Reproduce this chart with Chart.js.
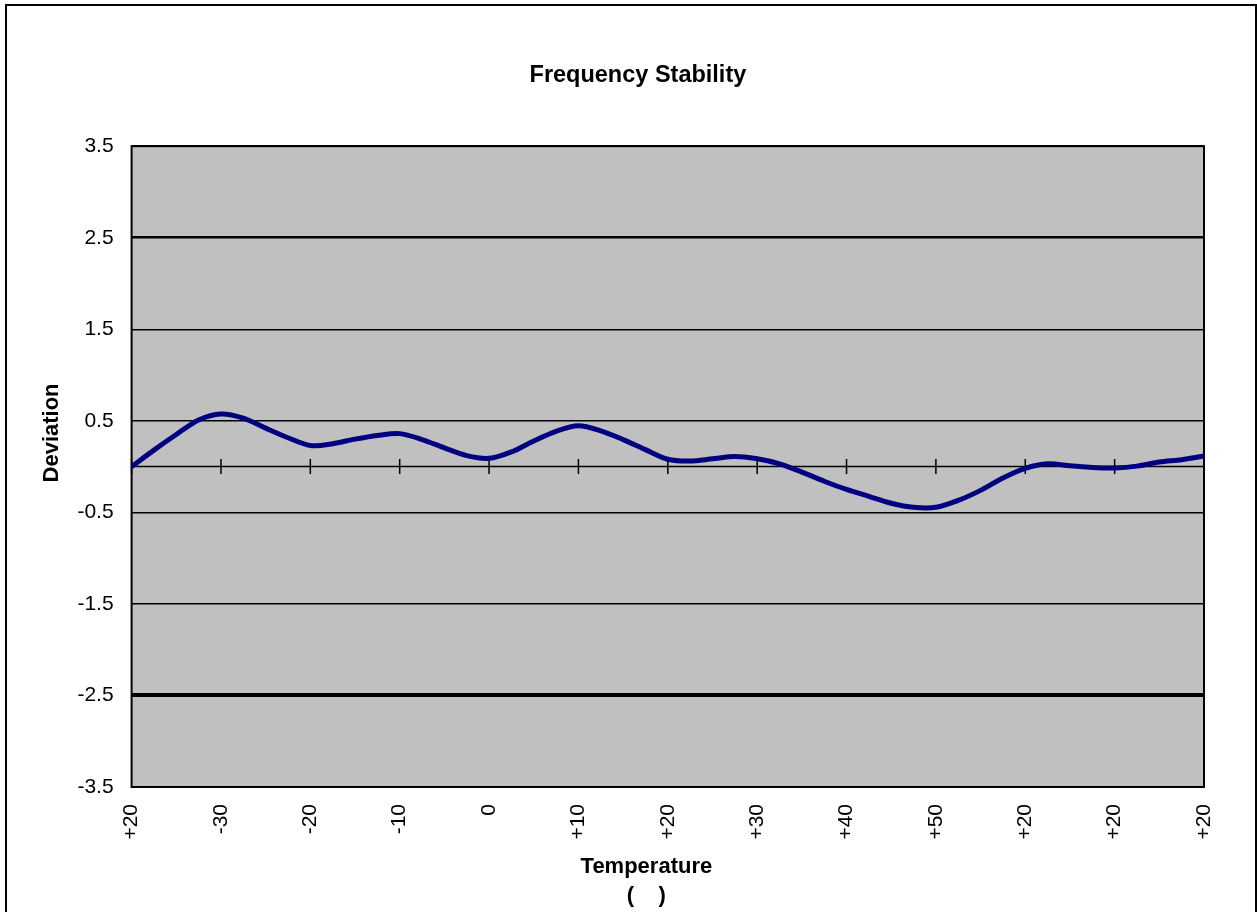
<!DOCTYPE html>
<html>
<head>
<meta charset="utf-8">
<title>Frequency Stability</title>
<script src="https://cdn.jsdelivr.net/npm/chart.js@4.4.1/dist/chart.umd.min.js"></script>
<style>
  html, body { margin: 0; padding: 0; background: #fff; overflow: hidden; }
  #frame { position: absolute; left: 5px; top: 4px; width: 1248px; height: 1000px; border: 2px solid #000; }
  #wrap { position: absolute; left: 0; top: 0; width: 1257px; height: 912px; }
</style>
</head>
<body>
<div id="frame"></div>
<div id="wrap"><canvas id="stabilityChart"></canvas></div>
<script>
// temperature steps along the run (one label per step)
const tempLabels = ['+20', '-30', '-20', '-10', '0', '+10', '+20', '+30', '+40', '+50', '+20', '+20', '+20'];
// deviation samples, four per temperature step
const samplesPerStep = 4;
const deviation = [
  0.00, 0.18, 0.35, 0.51, 0.575, 0.53, 0.42, 0.315,
  0.23, 0.25, 0.30, 0.34, 0.36, 0.295, 0.205, 0.12,
  0.09, 0.16, 0.28, 0.385, 0.445, 0.39, 0.295, 0.185,
  0.08, 0.06, 0.085, 0.11, 0.085, 0.03, -0.06, -0.16,
  -0.25, -0.325, -0.40, -0.445, -0.445, -0.37, -0.26, -0.125,
  -0.02, 0.03, 0.01, -0.01, -0.015, 0.005, 0.05, 0.075, 0.115
];
const yTicks = [-3.5, -2.5, -1.5, -0.5, 0.5, 1.5, 2.5, 3.5];
const limitValues = [-2.5, 2.5];

Chart.defaults.font.family = '"Liberation Sans", Arial, sans-serif';
Chart.defaults.color = '#000';

// grey plot area, frame, and the zero axis with cross tick marks
const plotFrame = {
  id: 'plotFrame',
  beforeDraw(chart) {
    const { ctx, chartArea: a } = chart;
    ctx.save();
    ctx.fillStyle = '#c0c0c0';
    ctx.fillRect(a.left, a.top, a.width, a.height);
    ctx.restore();
  },
  beforeDatasetsDraw(chart) {
    const { ctx, chartArea: a, scales: { x, y } } = chart;
    const y0 = y.getPixelForValue(0);
    ctx.save();
    ctx.strokeStyle = '#000';
    ctx.lineWidth = 1.5;
    ctx.beginPath();
    ctx.moveTo(a.left, y0);
    ctx.lineTo(a.right, y0);
    x.ticks.forEach(t => {
      const px = x.getPixelForValue(t.value);
      ctx.moveTo(px, y0 - 7.5);
      ctx.lineTo(px, y0 + 7.5);
    });
    ctx.stroke();
    ctx.lineWidth = 2;
    ctx.strokeRect(a.left, a.top, a.width, a.height);
    ctx.restore();
  }
};

const points = deviation.map((v, i) => ({ x: i / samplesPerStep, y: v }));

new Chart(document.getElementById('stabilityChart'), {
  type: 'line',
  data: {
    datasets: [{
      label: 'Deviation',
      data: points,
      borderColor: '#000080',
      borderWidth: 5,
      pointRadius: 0,
      tension: 0.3,
      borderCapStyle: 'round',
      borderJoinStyle: 'round',
      fill: false
    }]
  },
  options: {
    responsive: true,
    maintainAspectRatio: false,
    animation: false,
    layout: { padding: { left: 0, right: 53, top: 0, bottom: 0 } },
    plugins: {
      legend: { display: false },
      tooltip: { enabled: false },
      title: {
        display: true,
        text: ' '.repeat(11) + 'Frequency Stability',
        font: { size: 23.5, weight: 'bold', lineHeight: 1.2 },
        padding: { top: 61, bottom: 57 }
      }
    },
    scales: {
      x: {
        type: 'linear',
        min: 0,
        max: tempLabels.length - 1,
        afterBuildTicks: s => { s.ticks = tempLabels.map((_, i) => ({ value: i })); },
        // fit() reserves the tick padding twice; keep it once
        afterFit: s => { s.height -= s.options.ticks.padding; },
        grid: { display: false, drawTicks: false },
        border: { display: false },
        ticks: {
          autoSkip: false,
          minRotation: 90,
          maxRotation: 90,
          padding: 17,
          font: { size: 21 },
          callback: v => tempLabels[v]
        },
        title: {
          display: true,
          text: ['Temperature       ', '(    )       '],
          font: { size: 22, weight: 'bold', lineHeight: 1.35 },
          padding: { top: 12, bottom: 1 }
        }
      },
      y: {
        min: yTicks[0],
        max: yTicks[yTicks.length - 1],
        afterBuildTicks: s => { s.ticks = yTicks.map(v => ({ value: v })); },
        afterFit: s => { s.width -= s.options.ticks.padding; },
        grid: {
          drawTicks: false,
          color: '#000',
          lineWidth: c => c.tick && c.tick.value === limitValues[0] ? 4 : (c.tick && c.tick.value === limitValues[1] ? 2.5 : 1.5)
        },
        border: { display: false },
        ticks: {
          padding: 18,
          font: { size: 21 },
          callback: v => v.toFixed(1)
        },
        title: {
          display: true,
          text: ' '.repeat(11) + 'Deviation',
          font: { size: 22, weight: 'bold', lineHeight: 1.2 },
          padding: { top: 39, bottom: 12 }
        }
      }
    }
  },
  plugins: [plotFrame]
});
</script>
</body>
</html>
